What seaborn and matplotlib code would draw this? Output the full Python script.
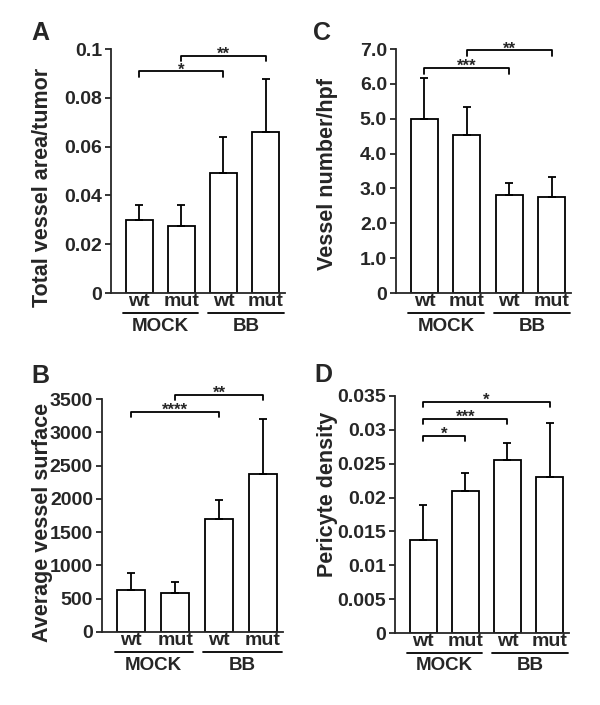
import matplotlib
matplotlib.use("Agg")
import matplotlib.pyplot as plt
import matplotlib.transforms as mtransforms
import seaborn as sns
import pandas as pd

sns.set_theme(style="ticks")
plt.rcParams['font.family'] = ['Liberation Sans', 'DejaVu Sans']
plt.rcParams['font.weight'] = 'bold'

groups = ["MOCK wt", "MOCK mut", "BB wt", "BB mut"]
tick_labels = ["wt", "mut", "wt", "mut"]
group_names = ["MOCK", "BB"]

# Panel A: Total vessel area/tumor
a_vals = [0.0298, 0.0273, 0.0493, 0.0658]
a_errs = [0.0064, 0.0089, 0.0146, 0.0219]
a_ticks = [0, 0.02, 0.04, 0.06, 0.08, 0.1]
a_ticklabels = ["0", "0.02", "0.04", "0.06", "0.08", "0.1"]

# Panel B: Average vessel surface
b_vals = [630, 580, 1695, 2380]
b_errs = [255, 170, 295, 815]
b_ticks = [0, 500, 1000, 1500, 2000, 2500, 3000, 3500]
b_ticklabels = ["0", "500", "1000", "1500", "2000", "2500", "3000", "3500"]

# Panel C: Vessel number/hpf
c_vals = [5.0, 4.53, 2.80, 2.76]
c_errs = [1.17, 0.80, 0.37, 0.56]
c_ticks = [0, 1, 2, 3, 4, 5, 6, 7]
c_ticklabels = ["0", "1.0", "2.0", "3.0", "4.0", "5.0", "6.0", "7.0"]

# Panel D: Pericyte density
d_vals = [0.01367, 0.02104, 0.02561, 0.02305]
d_errs = [0.00516, 0.00265, 0.00251, 0.00792]
d_ticks = [0, 0.005, 0.01, 0.015, 0.02, 0.025, 0.03, 0.035]
d_ticklabels = ["0", "0.005", "0.01", "0.015", "0.02", "0.025", "0.03", "0.035"]

# significance brackets: (i, j, height, label)
a_sig = [(0, 2, 0.0908, "*"), (1, 3, 0.0973, "**")]
b_sig = [(0, 2, 3305, "****"), (1, 3, 3560, "**")]
c_sig = [(0, 2, 6.45, "***"), (1, 3, 6.96, "**")]
d_sig = [(0, 1, 0.0291, "*"), (0, 2, 0.03161, "***"), (0, 3, 0.03416, "*")]

fig = plt.figure(figsize=(6.0, 7.05), dpi=100)
W, H = 600, 705


def ax_at(left, top, right, bottom):
    return fig.add_axes([left / W, 1 - bottom / H, (right - left) / W, (bottom - top) / H])


def panel(ax, vals, errs, ticks, ticklabels, ymax, sigs, ylabel, letter,
          label_xy, letter_xy):
    df = pd.DataFrame({"group": groups, "value": vals})
    sns.barplot(data=df, x="group", y="value", order=groups, color="white",
                edgecolor="black", linewidth=1.3, width=0.64, errorbar=None,
                ax=ax, saturation=1)
    for p in ax.patches:
        p.set_facecolor("white")
    ax.errorbar(range(4), vals, yerr=[[0] * 4, errs], fmt="none",
                ecolor="black", elinewidth=1.3, capsize=3, capthick=1.3,
                zorder=1)
    ax.set_xlim(-0.67, 3.46)
    ax.set_ylim(0, ymax)
    ax.set_yticks(ticks)
    ax.set_yticklabels(ticklabels, fontsize=14, fontweight="bold")
    ax.set_xticks(range(4))
    ax.set_xticklabels(tick_labels, fontsize=14, fontweight="bold")
    ax.tick_params(axis="x", length=0, pad=0)
    ax.tick_params(axis="y", length=4, width=1.3, pad=2.5, direction="out")
    ax.set_xlabel("")
    ax.set_ylabel("")
    for s in ["top", "right"]:
        ax.spines[s].set_visible(False)
    for s in ["left", "bottom"]:
        ax.spines[s].set_linewidth(1.3)
    # group underline and names
    base = mtransforms.blended_transform_factory(ax.transData, ax.transAxes)
    t_line = mtransforms.offset_copy(base, fig=fig, y=-20, units="dots")
    t_text = mtransforms.offset_copy(base, fig=fig, y=-33, units="dots")
    for (x0, x1), name in zip([(-0.38, 1.40), (1.64, 3.43)], group_names):
        ax.plot([x0, x1], [0, 0], color="black", lw=1.3, transform=t_line,
                clip_on=False)
        ax.text((x0 + x1) / 2, 0, name, transform=t_text, ha="center",
                va="center", fontsize=13.5, fontweight="bold")
    # brackets
    d = ymax * 0.022
    t_star = mtransforms.offset_copy(ax.transData, fig=fig, y=-3, units="dots")
    for i, j, h, lab in sigs:
        ax.plot([i, i, j, j], [h - d, h, h, h - d], color="black", lw=1.3,
                clip_on=False)
        ax.text((i + j) / 2, h, lab, ha="center", va="baseline",
                fontsize=12, fontweight="bold", transform=t_star)
    fig.text(label_xy[0] / W, 1 - label_xy[1] / H, ylabel, rotation=90,
             ha="center", va="center", fontsize=15.5, fontweight="bold")
    fig.text(letter_xy[0] / W, 1 - letter_xy[1] / H, letter, ha="left",
             va="center", fontsize=18, fontweight="bold")


axA = ax_at(111, 49, 285, 293)
axC = ax_at(396, 49, 571, 293)
axB = ax_at(102, 399, 283, 632)
axD = ax_at(395, 396, 569, 633)

panel(axA, a_vals, a_errs, a_ticks, a_ticklabels, 0.1, a_sig,
      "Total vessel area/tumor", "A", (42, 187), (31, 33))
panel(axC, c_vals, c_errs, c_ticks, c_ticklabels, 7.0, c_sig,
      "Vessel number/hpf", "C", (327, 174), (313, 33))
panel(axB, b_vals, b_errs, b_ticks, b_ticklabels, 3500, b_sig,
      "Average vessel surface", "B", (43, 522), (31, 376))
panel(axD, d_vals, d_errs, d_ticks, d_ticklabels, 0.035, d_sig,
      "Pericyte density", "D", (327, 494), (314, 375))

fig.savefig("out.png", dpi=100, facecolor="white")
